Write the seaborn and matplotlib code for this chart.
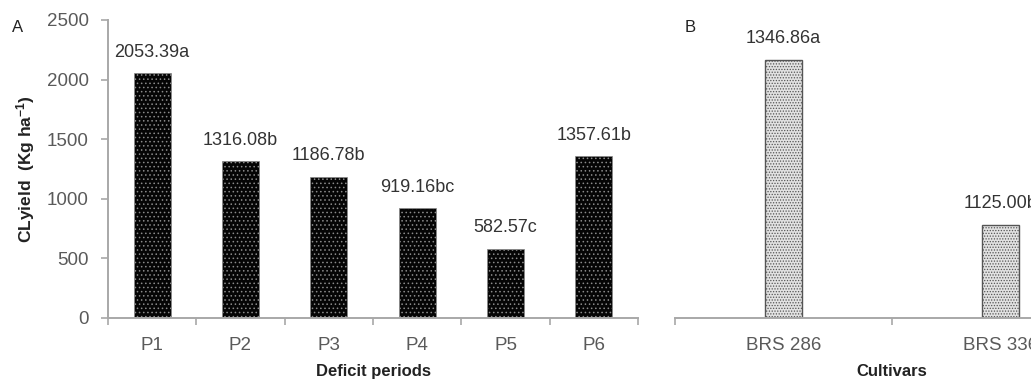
import pandas as pd
import matplotlib.pyplot as plt
import seaborn as sns

# data
periods = ['P1', 'P2', 'P3', 'P4', 'P5', 'P6']
period_yield = [2053.39, 1316.08, 1186.78, 919.16, 582.57, 1357.61]
period_letters = ['a', 'b', 'b', 'bc', 'c', 'b']

cultivars = ['BRS 286', 'BRS 336']
cultivar_yield = [1346.86, 1125.00]
cultivar_letters = ['a', 'b']

sns.set_style('white')
plt.rcParams['font.family'] = ['Liberation Sans', 'DejaVu Sans']
plt.rcParams['mathtext.default'] = 'regular'
plt.rcParams['hatch.linewidth'] = 0.6

axis_grey = '#a8a8a8'
tick_grey = '#5a5a5a'

fig = plt.figure(figsize=(10.31, 3.85), dpi=100)
axA = fig.add_axes([108 / 1031, 67 / 385, 530 / 1031, 298 / 385])
axB = fig.add_axes([675 / 1031, 67 / 385, 434 / 1031, 298 / 385])

dfA = pd.DataFrame({'period': periods, 'yield': period_yield})
dfB = pd.DataFrame({'cultivar': cultivars, 'yield': cultivar_yield})

sns.barplot(data=dfA, x='period', y='yield', ax=axA, color='#050505',
            saturation=1, width=0.42, edgecolor='#8a8a8a', linewidth=0.5)
sns.barplot(data=dfB, x='cultivar', y='yield', ax=axB, color='#e2e2e2',
            saturation=1, width=0.175, edgecolor='#555555', linewidth=1.0)

for p in axA.patches:
    p.set_hatch('....')
for p in axB.patches:
    p.set_hatch('......')

# bar labels
axA.bar_label(axA.containers[0],
              labels=[f'{v:.2f}{l}' for v, l in zip(period_yield, period_letters)],
              padding=9, fontsize=13, color='#333333')
axB.bar_label(axB.containers[0],
              labels=[f'{v:.2f}{l}' for v, l in zip(cultivar_yield, cultivar_letters)],
              padding=9, fontsize=13, color='#333333')

# panel A axes
axA.set_ylim(0, 2500)
axA.set_yticks(range(0, 2501, 500))
axA.set_xlim(-0.5, len(periods) - 0.5)
axA.set_xticks([i - 0.5 for i in range(len(periods) + 1)], minor=True)
axA.set_ylabel('CLyield  (Kg ha$^{-1}$)', fontsize=12.5, fontweight='bold',
               color='#222222', labelpad=7)

# panel B axes (hidden y scale, not starting at zero)
axB.set_ylim(1000, 1400)
axB.set_yticks([])
axB.set_xlim(-0.5, len(cultivars) - 0.5)
axB.set_xticks([i - 0.5 for i in range(len(cultivars) + 1)], minor=True)
axB.set_ylabel('')

for ax, xl in [(axA, 'Deficit periods'), (axB, 'Cultivars')]:
    ax.set_xlabel(xl, fontsize=12, fontweight='bold', color='#222222', labelpad=7)
    for s in ['top', 'right']:
        ax.spines[s].set_visible(False)
    ax.spines['bottom'].set_color(axis_grey)
    ax.spines['bottom'].set_linewidth(1.4)
    ax.spines['left'].set_color(axis_grey)
    ax.spines['left'].set_linewidth(1.4)
    ax.tick_params(axis='x', which='major', length=0, pad=14,
                   labelsize=13.5, labelcolor=tick_grey)
    ax.tick_params(axis='x', which='minor', bottom=True, length=5,
                   width=1.2, color=axis_grey, direction='out')
    ax.tick_params(axis='y', left=True, length=5, width=1.2, color=axis_grey,
                   pad=9, labelsize=13.5, labelcolor=tick_grey)
    ax.patch.set_alpha(0)

axB.spines['left'].set_visible(False)

fig.text(12 / 1031, 1 - 27 / 385, 'A', fontsize=12, color='#222222', va='center')
fig.text(685 / 1031, 1 - 28 / 385, 'B', fontsize=12, color='#222222', va='center')

fig.savefig('out.png', dpi=100)
